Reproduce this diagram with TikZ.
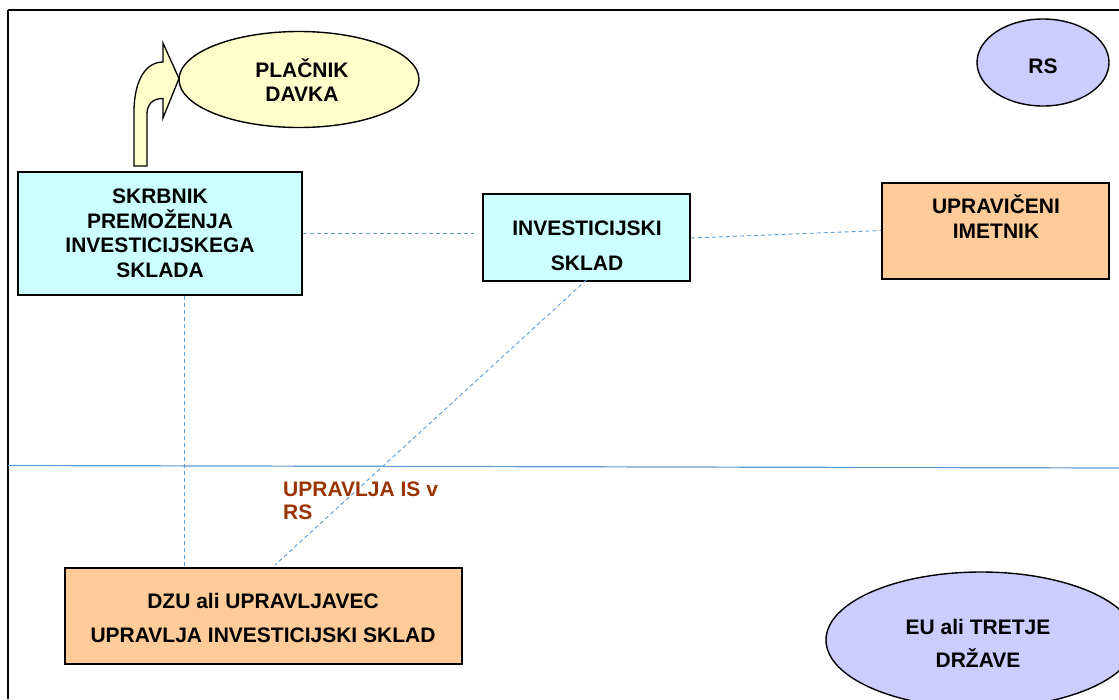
\documentclass[tikz,border=0pt]{standalone}
\usepackage{fontspec}
\setmainfont{Liberation Sans}
\usetikzlibrary{shapes.geometric}
\definecolor{boxcyan}{RGB}{204,255,255}
\definecolor{boxorange}{RGB}{255,204,153}
\definecolor{ovalblue}{RGB}{204,204,255}
\definecolor{ovalyellow}{RGB}{255,255,204}
\definecolor{linkblue}{RGB}{91,155,213}
\definecolor{labelbrown}{RGB}{153,51,0}
\begin{document}
\begin{tikzpicture}[x=1pt,y=-1pt,
  box/.style={draw=black, line width=1.6pt, inner sep=0pt, rectangle},
  oval/.style={draw=black, line width=1.4pt, inner sep=0pt, ellipse},
  txt/.style={font=\bfseries\fontsize{21}{25}\selectfont, inner sep=0pt, anchor=base},
  note/.style={txt, text=labelbrown, anchor=base west},
  link/.style={draw=linkblue, line width=0.9pt, dash pattern=on 4pt off 3pt},
  border/.style={draw=black, line width=2pt}]
\useasboundingbox (0,0) rectangle (1119,699);
\clip (0,0) rectangle (1119,699);

% outer frame (top and left edges) and the RS / EU boundary
\draw[border] (8,10) -- (1119,10);
\draw[border] (8,10) -- (8,699);
\draw[draw=linkblue, line width=1.2pt] (8,465.5) -- (1119,468);

% shapes
\node[box, fill=boxcyan, minimum width=284pt, minimum height=123pt] (skrbnik) at (160,233.5) {};
\node[box, fill=boxcyan, minimum width=207pt, minimum height=87pt] (invest) at (586.5,237.5) {};
\node[box, fill=boxorange, minimum width=227pt, minimum height=96pt] (imetnik) at (995.5,231) {};
\node[box, fill=boxorange, minimum width=397pt, minimum height=96pt] (dzu) at (263.5,616) {};
\node[oval, fill=ovalblue, minimum width=132pt, minimum height=87pt] (rs) at (1043,62.5) {};
\node[oval, fill=ovalyellow, minimum width=240pt, minimum height=96pt] (placnik) at (299,79.5) {};
\node[oval, fill=ovalblue, minimum width=310pt, minimum height=136pt] (eu) at (981,640) {};

% bent arrow from the custodian up to the tax payer
\filldraw[fill=ovalyellow, draw=black, line width=1.3pt, line join=miter]
  (134,166) -- (134,112) .. controls (134,80) and (146,62) .. (163,62)
  -- (163,43) -- (179,78.5) -- (163,118) -- (163,98.5)
  .. controls (153,98.5) and (147,104) .. (147,114) -- (147,166) -- cycle;

% dashed relations
\coordinate (vline) at (184,0);
\coordinate (dzuend) at (275,565);
\draw[link] (skrbnik.east) -- ([xshift=-8pt]invest.west |- skrbnik.east);
\draw[link] ([yshift=-0.5pt]invest.east) -- ([yshift=0.5pt]imetnik.west);
\draw[link] (skrbnik.south -| vline) -- (dzu.north -| vline);
\draw[link] ([yshift=2pt]invest.south) -- (dzuend);

% texts
\node[txt] (t-skr1) at (160,203.5) {SKRBNIK};
\node[txt] (t-skr2) at (160,228) {PREMOŽENJA};
\node[txt] (t-skr3) at (160,252.5) {INVESTICIJSKEGA};
\node[txt] (t-skr4) at (160,277) {SKLADA};
\node[txt] (t-inv1) at (587,235) {INVESTICIJSKI};
\node[txt] (t-inv2) at (587,270) {SKLAD};
\node[txt] (t-ime1) at (996,213.5) {UPRAVIČENI};
\node[txt] (t-ime2) at (996,238.5) {IMETNIK};
\node[txt] (t-rs) at (1043,73) {RS};
\node[txt] (t-dzu1) at (263,608.5) {DZU ali UPRAVLJAVEC};
\node[txt] (t-dzu2) at (263,642.5) {UPRAVLJA INVESTICIJSKI SKLAD};
\node[txt] (t-eu1) at (978,634.5) {EU ali TRETJE};
\node[txt] (t-eu2) at (978,667.5) {DRŽAVE};
\node[txt] (t-pl1) at (302,77) {PLAČNIK};
\node[txt] (t-pl2) at (302,101) {DAVKA};
\node[note] (t-up1) at (283,496) {UPRAVLJA IS v};
\node[note] (t-up2) at (283,519.5) {RS};
\end{tikzpicture}
\end{document}
